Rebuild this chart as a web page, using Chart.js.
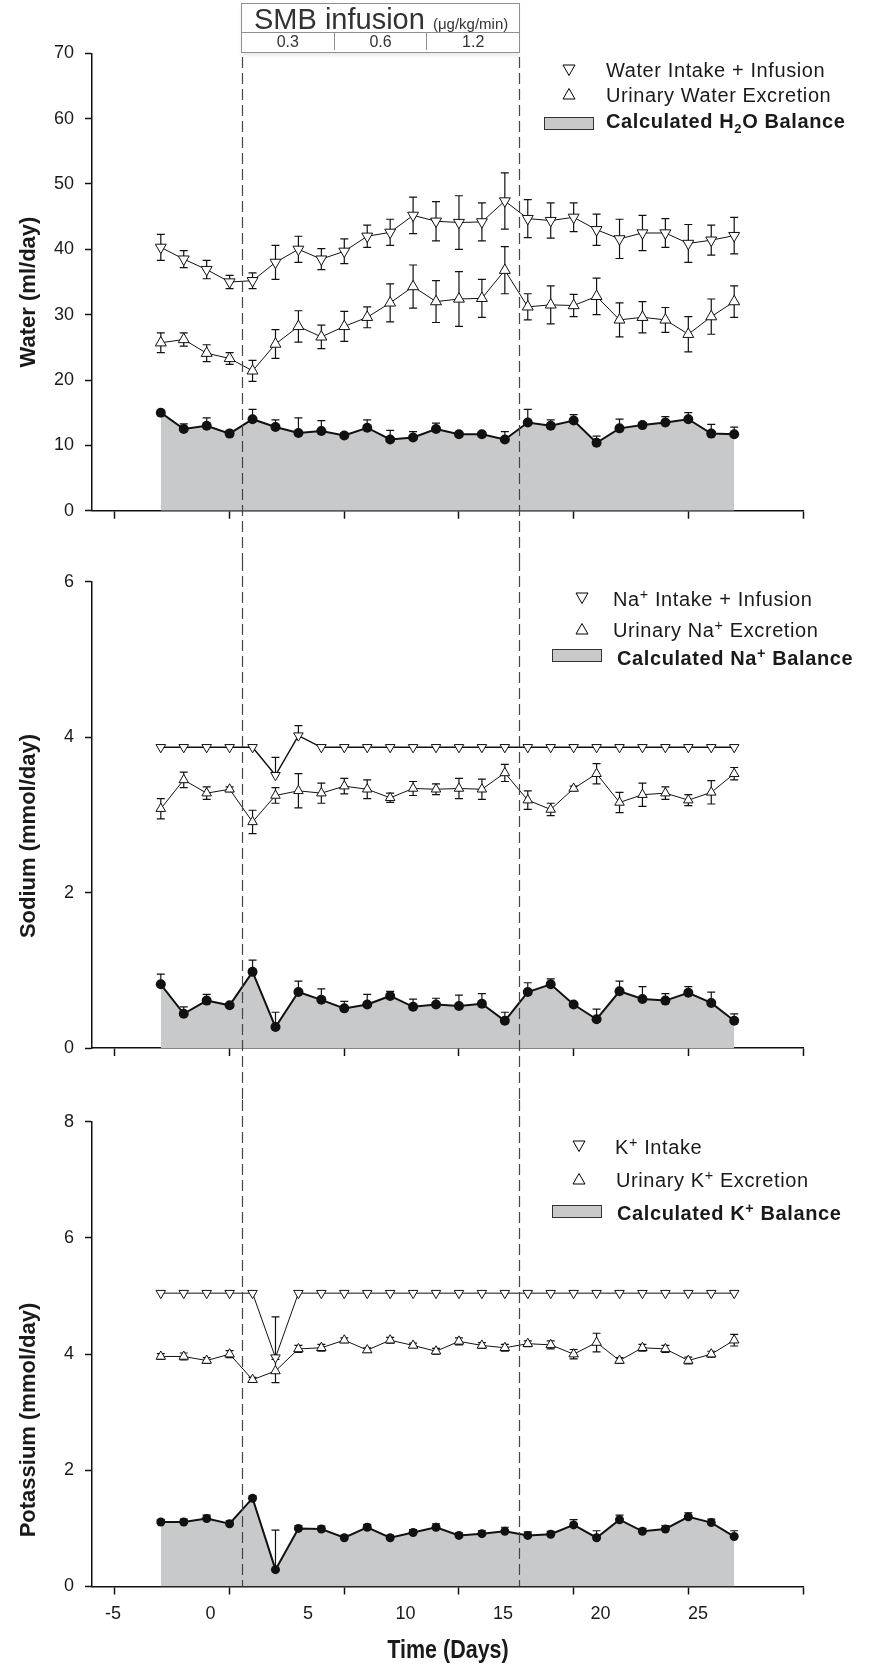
<!DOCTYPE html>
<html>
<head>
<meta charset="utf-8">
<title>SMB infusion balance</title>
<script src="https://cdn.jsdelivr.net/npm/chart.js@4.4.1/dist/chart.umd.min.js"></script>
<style>
  body { margin: 0; background: #fff; }
  #wrap { position: relative; width: 870px; height: 1672px; font-family: 'Liberation Sans', Arial, sans-serif; color: #1a1a1a; overflow: hidden; }
  canvas { position: absolute; left: 0; }
  .ytitle { position: absolute; transform: translate(-50%, -50%) rotate(-90deg); font-weight: bold; font-size: 22px; white-space: nowrap; }
  .xtitle { position: absolute; transform: translate(-50%, -50%) scaleX(0.86); font-weight: bold; font-size: 25px; white-space: nowrap; }
  .leg { position: absolute; font-size: 20px; line-height: 20px; letter-spacing: 0.6px; white-space: nowrap; }
  .leg.bold { font-weight: bold; }
  .leg sup { font-size: 0.72em; vertical-align: 0.5em; line-height: 0; }
  .leg sub { font-size: 0.65em; vertical-align: -0.35em; line-height: 0; }
  .mk { position: absolute; }
  .swatch { position: absolute; width: 48px; height: 11px; background: #c8c9cb; border: 1px solid #333; }
  #smb { position: absolute; left: 241px; top: 3px; width: 279px; height: 50px; box-sizing: border-box; border: 1.5px solid #8f8f8f; background: #fff; color: #333; box-shadow: 0 3px 3px rgba(0,0,0,0.07); }
  #smb .head { height: 28px; line-height: 31px; border-bottom: 1.5px solid #8f8f8f; font-size: 29px; padding-left: 12px; white-space: nowrap; }
  #smb .head span { font-size: 15px; }
  #smb .doses { display: flex; height: 17px; }
  #smb .doses div { flex: 1; text-align: center; font-size: 16px; line-height: 17px; }
  #smb .doses div + div { border-left: 1.5px solid #8f8f8f; }
</style>
</head>
<body>
<div id="wrap">
  <canvas id="waterChart" width="870" height="560" style="top:0"></canvas>
  <canvas id="sodiumChart" width="870" height="540" style="top:560px"></canvas>
  <canvas id="potassiumChart" width="870" height="572" style="top:1100px"></canvas>

  <div id="smb">
    <div class="head">SMB infusion <span>(μg/kg/min)</span></div>
    <div class="doses"><div>0.3</div><div>0.6</div><div>1.2</div></div>
  </div>

  <div class="ytitle" style="left:28px;top:292px">Water (ml/day)</div>
  <div class="ytitle" style="left:28px;top:836px">Sodium (mmol/day)</div>
  <div class="ytitle" style="left:28px;top:1420px">Potassium (mmol/day)</div>
  <div class="xtitle" style="left:448px;top:1649px">Time (Days)</div>

  <!-- water legend -->
  <svg class="mk" style="left:562px;top:63px" width="14" height="14"><polygon points="1,2 13,2 7,12.5" fill="#fff" stroke="#000"/></svg>
  <div class="leg" style="left:606px;top:60px">Water Intake + Infusion</div>
  <svg class="mk" style="left:562px;top:87px" width="14" height="14"><polygon points="1,12 13,12 7,1.5" fill="#fff" stroke="#000"/></svg>
  <div class="leg" style="left:606px;top:85px">Urinary Water Excretion</div>
  <div class="swatch" style="left:544px;top:117px"></div>
  <div class="leg bold" style="left:606px;top:111px">Calculated H<sub>2</sub>O Balance</div>

  <!-- sodium legend -->
  <svg class="mk" style="left:575px;top:591px" width="14" height="14"><polygon points="1,2 13,2 7,12.5" fill="#fff" stroke="#000"/></svg>
  <div class="leg" style="left:613px;top:589px">Na<sup>+</sup> Intake + Infusion</div>
  <svg class="mk" style="left:575px;top:622px" width="14" height="14"><polygon points="1,12 13,12 7,1.5" fill="#fff" stroke="#000"/></svg>
  <div class="leg" style="left:613px;top:620px">Urinary Na<sup>+</sup> Excretion</div>
  <div class="swatch" style="left:552px;top:649px"></div>
  <div class="leg bold" style="left:617px;top:648px">Calculated Na<sup>+</sup> Balance</div>

  <!-- potassium legend -->
  <svg class="mk" style="left:572px;top:1139px" width="14" height="14"><polygon points="1,2 13,2 7,12.5" fill="#fff" stroke="#000"/></svg>
  <div class="leg" style="left:615px;top:1137px">K<sup>+</sup> Intake</div>
  <svg class="mk" style="left:572px;top:1172px" width="14" height="14"><polygon points="1,12 13,12 7,1.5" fill="#fff" stroke="#000"/></svg>
  <div class="leg" style="left:616px;top:1170px">Urinary K<sup>+</sup> Excretion</div>
  <div class="swatch" style="left:552px;top:1205px"></div>
  <div class="leg bold" style="left:617px;top:1203px">Calculated K<sup>+</sup> Balance</div>
</div>

<script>
// study days (x) and axis ticks
const days = [-3, -2, -1, 0, 1, 2, 3, 4, 5, 6, 7, 8, 9, 10, 11, 12, 13, 14, 15, 16, 17, 18, 19, 20, 21, 22];
const dayTicks = [-5, 0, 5, 10, 15, 20, 25];
const dayTickLabels = ['-5', '0', '5', '10', '15', '20', '25'];
const infusionMarks = [0.55, 12.6];   // dashed lines: start / end of SMB infusion

// water (ml/day)
const waterTicks = [0, 10, 20, 30, 40, 50, 60, 70];
const waterIntake = [40.3, 38.5, 36.9, 35.0, 35.2, 38.0, 40.0, 38.5, 39.7, 42.0, 42.6, 45.2, 44.3, 44.1, 44.2, 47.4, 44.7, 44.4, 44.9, 43.0, 41.6, 42.5, 42.5, 40.9, 41.4, 42.1];
const waterIntakeErr = [2.0, 1.3, 1.4, 1.0, 1.2, 2.6, 2.0, 1.6, 1.9, 1.7, 2.0, 2.8, 3.0, 4.1, 2.9, 4.3, 2.9, 2.7, 2.2, 2.4, 3.0, 2.7, 2.2, 2.9, 2.3, 2.8];
const waterUrine = [25.7, 26.2, 24.1, 23.3, 21.4, 25.5, 28.2, 26.6, 28.2, 29.6, 31.8, 34.3, 32.0, 32.4, 32.5, 36.8, 31.2, 31.5, 31.4, 32.8, 29.2, 29.6, 29.2, 27.0, 29.7, 32.0];
const waterUrineErr = [1.5, 1.0, 1.3, 0.9, 1.6, 2.2, 2.4, 1.8, 2.3, 1.6, 2.9, 3.3, 3.2, 4.2, 2.9, 3.6, 2.0, 2.9, 1.7, 2.8, 2.6, 2.4, 1.9, 2.7, 2.7, 2.4];
const waterBalance = [15.0, 12.5, 13.0, 11.8, 14.0, 12.8, 11.9, 12.2, 11.5, 12.7, 10.9, 11.2, 12.5, 11.7, 11.7, 10.9, 13.5, 13.0, 13.8, 10.4, 12.6, 13.1, 13.5, 14.0, 11.8, 11.7];
const waterBalanceErr = [0.3, 0.8, 1.2, 0.5, 1.5, 1.1, 2.3, 1.6, 0.4, 1.2, 1.4, 0.9, 0.9, 0.3, 0.3, 1.2, 2.0, 0.9, 0.9, 1.0, 1.4, 0.4, 0.9, 1.0, 1.4, 1.1];

// sodium (mmol/day)
const sodiumTicks = [0, 2, 4, 6];
const sodiumIntake = [3.87, 3.87, 3.87, 3.87, 3.87, 3.51, 4.02, 3.87, 3.87, 3.87, 3.87, 3.87, 3.87, 3.87, 3.87, 3.87, 3.87, 3.87, 3.87, 3.87, 3.87, 3.87, 3.87, 3.87, 3.87, 3.87];
const sodiumIntakeErr = [0, 0, 0, 0, 0, 0.23, 0.13, 0, 0, 0, 0, 0, 0, 0, 0, 0, 0, 0, 0, 0, 0, 0, 0, 0, 0, 0];
const sodiumUrine = [3.08, 3.45, 3.28, 3.33, 2.91, 3.25, 3.31, 3.28, 3.37, 3.33, 3.22, 3.34, 3.33, 3.34, 3.33, 3.54, 3.19, 3.07, 3.34, 3.53, 3.16, 3.26, 3.28, 3.19, 3.29, 3.53];
const sodiumUrineErr = [0.13, 0.10, 0.08, 0.03, 0.15, 0.10, 0.22, 0.13, 0.10, 0.12, 0.06, 0.09, 0.07, 0.13, 0.13, 0.11, 0.12, 0.08, 0.03, 0.13, 0.13, 0.15, 0.08, 0.07, 0.15, 0.08];
const sodiumBalance = [0.82, 0.44, 0.61, 0.55, 0.98, 0.27, 0.72, 0.62, 0.51, 0.56, 0.67, 0.53, 0.56, 0.54, 0.57, 0.35, 0.72, 0.82, 0.56, 0.37, 0.73, 0.63, 0.61, 0.71, 0.58, 0.35];
const sodiumBalanceErr = [0.13, 0.09, 0.08, 0.02, 0.15, 0.19, 0.14, 0.14, 0.09, 0.13, 0.06, 0.10, 0.08, 0.14, 0.13, 0.11, 0.12, 0.07, 0.02, 0.13, 0.13, 0.16, 0.09, 0.08, 0.14, 0.09];

// potassium (mmol/day)
const potassiumTicks = [0, 2, 4, 6, 8];
const potassiumIntake = [5.05, 5.05, 5.05, 5.05, 5.05, 3.94, 5.05, 5.05, 5.05, 5.05, 5.05, 5.05, 5.05, 5.05, 5.05, 5.05, 5.05, 5.05, 5.05, 5.05, 5.05, 5.05, 5.05, 5.05, 5.05, 5.05];
const potassiumIntakeErr = [0, 0, 0, 0, 0, 0.7, 0, 0, 0, 0, 0, 0, 0, 0, 0, 0, 0, 0, 0, 0, 0, 0, 0, 0, 0, 0];
const potassiumUrine = [3.96, 3.96, 3.89, 4.0, 3.56, 3.71, 4.09, 4.11, 4.24, 4.07, 4.24, 4.15, 4.05, 4.22, 4.15, 4.11, 4.18, 4.16, 4.0, 4.2, 3.89, 4.11, 4.09, 3.89, 4.0, 4.24];
const potassiumUrineErr = [0.05, 0.06, 0.05, 0.06, 0.04, 0.2, 0.06, 0.06, 0.04, 0.04, 0.05, 0.04, 0.05, 0.06, 0.05, 0.06, 0.05, 0.07, 0.08, 0.16, 0.05, 0.06, 0.06, 0.06, 0.05, 0.1];
const potassiumBalance = [1.11, 1.11, 1.17, 1.08, 1.52, 0.29, 1.0, 0.99, 0.84, 1.02, 0.84, 0.93, 1.02, 0.88, 0.91, 0.95, 0.88, 0.9, 1.06, 0.84, 1.15, 0.95, 0.99, 1.2, 1.1, 0.86];
const potassiumBalanceErr = [0.04, 0.05, 0.06, 0.05, 0.04, 0.68, 0.05, 0.05, 0.04, 0.05, 0.04, 0.05, 0.06, 0.04, 0.05, 0.07, 0.06, 0.05, 0.09, 0.12, 0.08, 0.05, 0.06, 0.07, 0.06, 0.1];

const FONT = "'Liberation Sans', Arial, sans-serif";
const tickFont = { family: FONT, size: 18 };
const balanceGray = '#c8c9cb';

const points = vals => days.map((d, i) => ({ x: d, y: vals[i] }));

// error bars, drawn just before each dataset (after the gray fill)
const errorBars = {
  id: 'errorBars',
  beforeDatasetDraw(chart, args) {
    const ds = chart.data.datasets[args.index];
    if (!ds.errors) return;
    const xs = chart.scales.x, ys = chart.scales.y, ctx = chart.ctx;
    ctx.save();
    ctx.strokeStyle = '#111';
    ctx.lineWidth = 1.2;
    ds.data.forEach((p, i) => {
      const e = ds.errors[i];
      if (!e) return;
      const px = xs.getPixelForValue(p.x);
      const top = ys.getPixelForValue(p.y + e);
      const bot = ys.getPixelForValue(ds.errMode === 'up' ? p.y : p.y - e);
      ctx.beginPath();
      ctx.moveTo(px, top); ctx.lineTo(px, bot);
      ctx.moveTo(px - 4, top); ctx.lineTo(px + 4, top);
      if (ds.errMode !== 'up') { ctx.moveTo(px - 4, bot); ctx.lineTo(px + 4, bot); }
      ctx.stroke();
    });
    ctx.restore();
  }
};

// dashed lines marking the infusion period, running through all three panels
function infusionLines(fromY, toAreaBottom) {
  return {
    id: 'infusionLines',
    afterDatasetsDraw(chart) {
      const ctx = chart.ctx, xs = chart.scales.x;
      const toY = toAreaBottom ? chart.chartArea.bottom : chart.height;
      ctx.save();
      ctx.strokeStyle = '#444';
      ctx.lineWidth = 1.2;
      ctx.setLineDash([11, 5]);
      infusionMarks.forEach(v => {
        const px = Math.round(xs.getPixelForValue(v)) + 0.5;
        ctx.beginPath(); ctx.moveTo(px, fromY); ctx.lineTo(px, toY); ctx.stroke();
      });
      ctx.restore();
    }
  };
}

function makePanel(id, o) {
  const scales = {
    x: {
      type: 'linear', position: 'bottom', min: -6, max: 25, weight: 1,
      afterBuildTicks: s => { s.ticks = dayTicks.map(v => ({ value: v })); },
      ticks: { display: false },
      grid: { drawOnChartArea: false, tickLength: 8, tickWidth: 1.5, tickColor: '#111' },
      border: { color: '#111', width: 1.5 },
      afterFit: s => { s.height = 10; }
    },
    y: {
      type: 'linear', min: 0, max: o.ticks[o.ticks.length - 1],
      afterBuildTicks: s => { s.ticks = o.ticks.map(v => ({ value: v })); },
      ticks: { color: '#1a1a1a', font: tickFont, padding: 11 },
      grid: { drawOnChartArea: false, tickLength: 7, tickWidth: 1.5, tickColor: '#111' },
      border: { color: '#111', width: 1.5 },
      afterFit: s => { s.width = 92; }
    }
  };
  if (o.dayLabels) {
    // the printed day numbers sit on their own spacing, not on the tick marks
    scales.xl = {
      type: 'linear', position: 'bottom', min: -6.08, max: 30.38, weight: 2,
      afterBuildTicks: s => { s.ticks = dayTicks.map(v => ({ value: v })); },
      grid: { display: false, drawTicks: false },
      border: { display: false },
      ticks: { color: '#1a1a1a', font: tickFont, padding: 7, maxRotation: 0, autoSkip: false,
               callback: (v, i) => dayTickLabels[i] },
      afterFit: s => { s.height = o.labelHeight; }
    };
  }
  return new Chart(document.getElementById(id), {
    type: 'line',
    data: {
      datasets: [
        { label: 'intake', data: points(o.intake), errors: o.intakeErr, errMode: o.intakeErrMode,
          xAxisID: 'x', yAxisID: 'y', borderColor: '#111', borderWidth: o.intakeLine || 1, fill: false,
          pointStyle: 'triangle', pointRotation: 180, pointRadius: o.triRadius,
          pointBackgroundColor: '#fff', pointBorderColor: '#111', pointBorderWidth: 1 },
        { label: 'urine', data: points(o.urine), errors: o.urineErr, errMode: 'both',
          xAxisID: 'x', yAxisID: 'y', borderColor: '#111', borderWidth: 1, fill: false,
          pointStyle: 'triangle', pointRadius: o.triRadius,
          pointBackgroundColor: '#fff', pointBorderColor: '#111', pointBorderWidth: 1 },
        { label: 'balance', data: points(o.balance), errors: o.balanceErr, errMode: 'up',
          xAxisID: 'x', yAxisID: 'y', borderColor: '#111', borderWidth: 2,
          fill: 'origin', backgroundColor: balanceGray,
          pointStyle: 'circle', pointRadius: o.dotRadius,
          pointBackgroundColor: '#111', pointBorderColor: '#111', pointBorderWidth: 0 }
      ]
    },
    options: {
      responsive: false,
      animation: false,
      events: [],
      layout: { padding: { left: 0, right: 67, top: o.padTop, bottom: o.padBottom } },
      plugins: { legend: { display: false }, tooltip: { enabled: false } },
      scales
    },
    plugins: [errorBars, infusionLines(o.dashFrom, o.dashToArea)]
  });
}

makePanel('waterChart', {
  ticks: waterTicks, padTop: 53.3, padBottom: 39.3, dashFrom: 57, dashToArea: false,
  intake: waterIntake, intakeErr: waterIntakeErr, intakeErrMode: 'both',
  urine: waterUrine, urineErr: waterUrineErr,
  balance: waterBalance, balanceErr: waterBalanceErr,
  triRadius: 6.3, dotRadius: 5
});

makePanel('sodiumChart', {
  ticks: sodiumTicks, padTop: 21, padBottom: 42, dashFrom: 0, dashToArea: false,
  intake: sodiumIntake, intakeErr: sodiumIntakeErr, intakeErrMode: 'up', intakeLine: 1.5,
  urine: sodiumUrine, urineErr: sodiumUrineErr,
  balance: sodiumBalance, balanceErr: sodiumBalanceErr,
  triRadius: 5.5, dotRadius: 5
});

makePanel('potassiumChart', {
  ticks: potassiumTicks, padTop: 19.5, padBottom: 0, dashFrom: 0, dashToArea: true,
  dayLabels: true, labelHeight: 75.5,
  intake: potassiumIntake, intakeErr: potassiumIntakeErr, intakeErrMode: 'up',
  urine: potassiumUrine, urineErr: potassiumUrineErr,
  balance: potassiumBalance, balanceErr: potassiumBalanceErr,
  triRadius: 5.5, dotRadius: 4.5
});
</script>
</body>
</html>
